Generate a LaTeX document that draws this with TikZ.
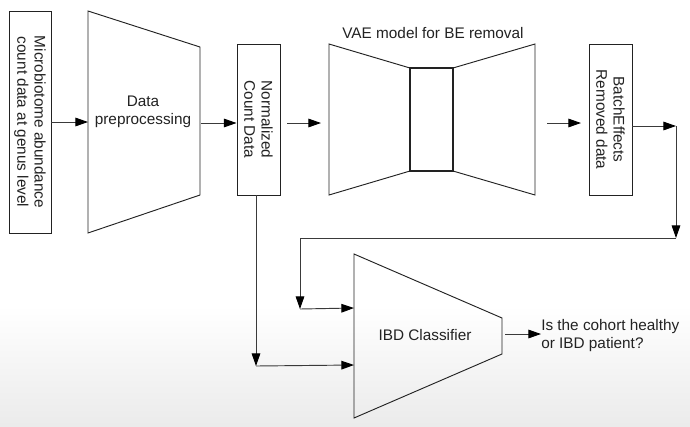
\documentclass[tikz,border=0pt]{standalone}
\usepackage{fontspec}
\setmainfont{Liberation Sans}
\usetikzlibrary{arrows.meta}
\definecolor{ink}{HTML}{222222}
\definecolor{wire}{HTML}{3A3A3A}
\definecolor{bgend}{HTML}{EBEBEB}
\tikzset{
  box/.style={draw=ink, line width=0.7pt, fill=white, inner sep=0pt, text=ink, align=center, font=\fontsize{11.5}{13}\selectfont},
  shapeline/.style={draw=ink, line width=0.7pt},
  lbl/.style={text=ink, font=\fontsize{11.5}{13.5}\selectfont, inner sep=0pt},
  conn/.style={draw=wire, line width=0.7pt, -{Triangle[length=9.5pt,width=6.5pt,color=black,fill=black]}},
  plain/.style={draw=wire, line width=0.7pt},
}
\begin{document}
\begin{tikzpicture}[x=0.75pt,y=-0.75pt]
\useasboundingbox (0,0) rectangle (690,426);
\fill[white] (0,0) rectangle (690,305);
\shade[top color=white,bottom color=bgend] (0,305) rectangle (690,426);

% input box
\node[box, minimum width={222*0.75pt}, minimum height={42*0.75pt}, rotate=-90] (inp) at (30,122)
  {Microbiotome abundance\\count data at genus level};

% preprocessing trapezoid
\draw[shapeline] (88,11) -- (200,47) -- (200,195) -- (88,233) -- cycle;
\coordinate (preW) at (88,122);
\coordinate (preE) at (201,123);
\node[lbl, align=center] (pre) at (143,112) {Data\\preprocessing};

% normalized box
\node[box, minimum width={151*0.75pt}, minimum height={43*0.75pt}, rotate=-90] (norm) at (258.5,119.5)
  {Normalized\\Count Data};

% VAE
\draw[shapeline] (329,44) -- (410,68) -- (410,171) -- (329,195) -- cycle;
\draw[shapeline] (453,68) -- (535,44) -- (535,195) -- (453,171) -- cycle;
\draw[draw=ink, line width=0.9pt, fill=white] (410,68) rectangle (453,171);
\node[lbl] (vaet) at (433,33) {VAE model for BE removal};
\coordinate (vaeInA) at (287,123);
\coordinate (vaeInB) at (321,123);
\coordinate (vaeOutA) at (547,123);
\coordinate (vaeOutB) at (581,123);

% batch effects removed box
\node[box, minimum width={151*0.75pt}, minimum height={43*0.75pt}, rotate=-90] (bec) at (610.5,119.5)
  {BatchEffects\\Removed data};

% classifier
\draw[shapeline] (354,254) -- (502,318) -- (502,354) -- (354,418) -- cycle;
\node[lbl] (clf) at (425,335) {IBD Classifier};
\coordinate (clfA) at (354,308);
\coordinate (clfB) at (354,365);
\coordinate (clfE) at (505,334);
\node[lbl, align=left, anchor=west] (res) at (541,336)
  {Is the cohort healthy\\or IBD patient?};

% routing coordinates
\coordinate (c1) at (676,126);
\coordinate (c2) at (676,238);
\coordinate (c3) at (300,238);
\coordinate (c4) at (300,309);
\coordinate (n1) at (256,366);

% connectors
\draw[conn] (inp.north) -- (preW);
\draw[conn] (preE) -- (preE -| norm.south);
\draw[conn] (vaeInA) -- (vaeInB);
\draw[conn] (vaeOutA) -- (vaeOutB);
\draw[conn] (bec.north |- c1) -- (c1);
\draw[conn] (c1) -- (c2);
\draw[plain] (c2) -- (c3);
\draw[conn] (c3) -- (c4);
\draw[conn] (c4) -- (clfA);
\draw[conn] (norm.east -| n1) -- (n1);
\draw[conn] (n1) -- (clfB);
\draw[conn] (clfE) -- (clfE -| res.west);
\end{tikzpicture}
\end{document}
